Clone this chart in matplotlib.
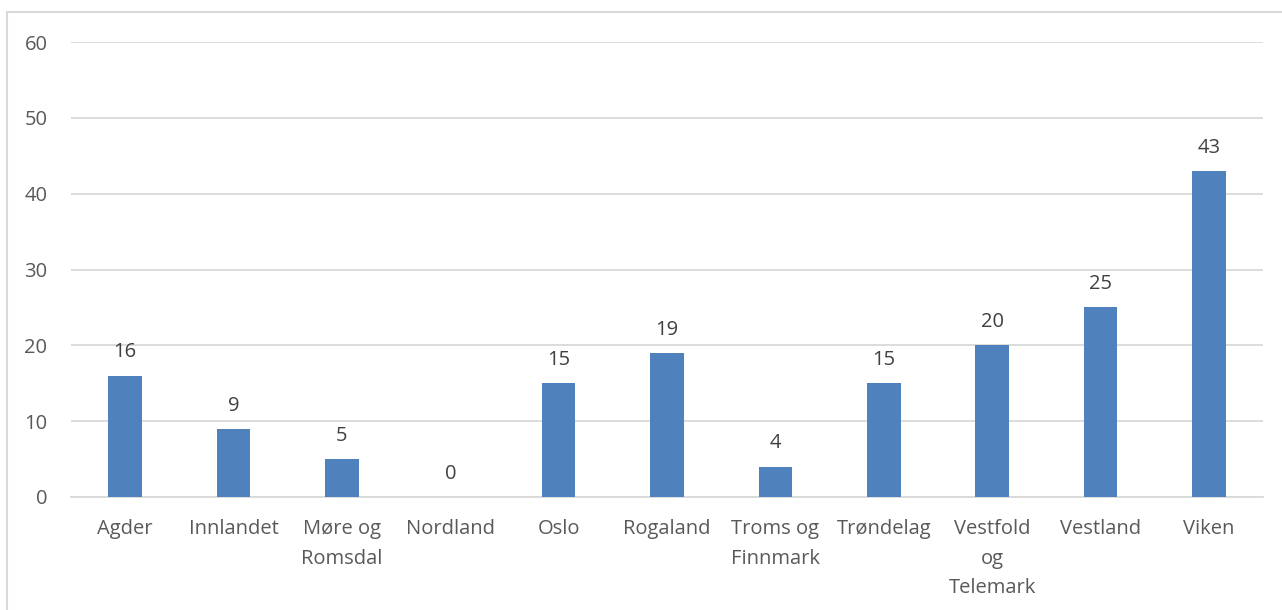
import matplotlib.pyplot as plt
from matplotlib.patches import Rectangle

# Data
fylker = ["Agder", "Innlandet", "Møre og\nRomsdal", "Nordland", "Oslo", "Rogaland",
          "Troms og\nFinnmark", "Trøndelag", "Vestfold\nog\nTelemark", "Vestland", "Viken"]
antall = [16, 9, 5, 0, 15, 19, 4, 15, 20, 25, 43]
y_ticks = [0, 10, 20, 30, 40, 50, 60]

plt.rcParams['font.family'] = ['Open Sans', 'DejaVu Sans']
tekst_farge = '#595959'
grid_farge = '#d9d9d9'

fig = plt.figure(figsize=(12.82, 6.10), dpi=100)
ax = fig.add_axes([71 / 1282, 1 - 497 / 610, (1263 - 71) / 1282, (497 - 42) / 610])

x = range(len(fylker))
bars = ax.bar(x, antall, width=0.31, color='#4f81bd', zorder=3)

for rect, v in zip(bars, antall):
    ax.annotate(str(v), (rect.get_x() + rect.get_width() / 2, v),
                xytext=(0, 9.5), textcoords='offset points',
                ha='center', va='bottom', fontsize=14.5, color='#404040')

ax.set_xlim(-0.5, len(fylker) - 0.5)
ax.set_ylim(0, 60)
ax.set_yticks(y_ticks)
ax.set_xticks(list(x))
ax.set_xticklabels(fylker, fontsize=14.5, color=tekst_farge, linespacing=1.62, va='top')
ax.tick_params(axis='y', labelsize=14.5, labelcolor=tekst_farge, length=0, pad=17)
ax.tick_params(axis='x', length=0, pad=16)
ax.grid(axis='y', color=grid_farge, linewidth=1.3, zorder=0)
for s in ['top', 'right', 'left']:
    ax.spines[s].set_visible(False)
ax.spines['bottom'].set_color(grid_farge)
ax.spines['bottom'].set_linewidth(1.3)

# ramme rundt figuren
fig.patches.append(Rectangle((7 / 1282, -0.1), 1.2, 1 - 12 / 610 + 0.1,
                             transform=fig.transFigure, fill=False,
                             edgecolor=grid_farge, linewidth=1.5))

fig.savefig('out.png', dpi=100)
